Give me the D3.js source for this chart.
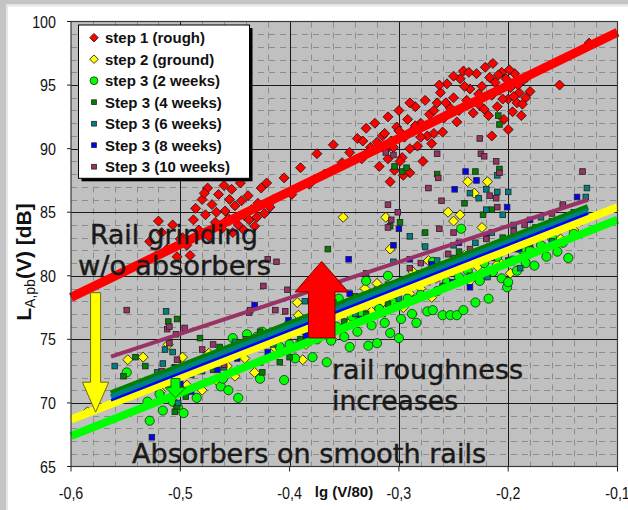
<!DOCTYPE html>
<html>
<head>
<meta charset="utf-8">
<script src="https://cdn.jsdelivr.net/npm/d3@7"></script>
<style>
  body { margin: 0; background: #fff; }
  svg { display: block; }
</style>
</head>
<body>
<svg id="chart" width="628" height="510"></svg>
<script>
// ---- axis ticks ----
const xTicks = [-0.6, -0.5, -0.4, -0.3, -0.2, -0.1];
const xTickLabels = ["-0,6", "-0,5", "-0,4", "-0,3", "-0,2", "-0,1"];
const yTicks = [65, 70, 75, 80, 85, 90, 95, 100];

// ---- series ----
const seriesNames = ["step 1 (rough)", "step 2 (ground)", "step 3 (2 weeks)", "Step 3 (4 weeks)",
  "Step 3 (6 weeks)", "Step 3 (8 weeks)", "Step 3 (10 weeks)"];
const seriesColors = ["#ff0000", "#ffff00", "#00ff00", "#008000", "#008080", "#0000ff", "#993366"];
const seriesShapes = ["diamond", "diamond", "circle", "square", "square", "square", "square"];

// [lg(V/80), L_A,pb in dB]
const step1 = [
  [-0.528,82.7],[-0.522,81.6],[-0.517,83.4],[-0.512,82.1],[-0.507,84.0],[-0.503,81.5],[-0.498,83.0],[-0.494,82.4],
  [-0.491,81.6],[-0.488,84.4],[-0.520,84.3],[-0.500,82.9],
  [-0.486,85.3],[-0.483,83.6],[-0.480,86.0],[-0.477,84.8],[-0.474,83.1],[-0.471,85.6],[-0.468,84.2],[-0.465,86.4],
  [-0.462,83.7],[-0.459,85.1],[-0.456,84.5],[-0.453,86.8],[-0.450,85.5],[-0.447,84.0],[-0.444,85.9],[-0.441,84.7],
  [-0.438,86.3],[-0.435,85.2],[-0.432,83.9],[-0.429,85.7],[-0.426,86.9],[-0.423,84.9],[-0.460,87.1],[-0.445,87.3],
  [-0.475,86.9],[-0.478,86.5],[-0.455,86.0],[-0.442,83.6],[-0.437,84.4],[-0.467,85.0],[-0.452,83.4],[-0.430,84.6],
  [-0.418,85.4],[-0.421,87.3],
  [-0.415,86.0],[-0.405,87.7],[-0.398,86.4],[-0.390,88.5],[-0.382,87.2],[-0.375,89.6],[-0.368,88.0],[-0.360,90.3],
  [-0.352,88.9],[-0.345,89.7],
  [-0.338,90.8],[-0.334,89.2],[-0.330,91.6],[-0.326,90.1],[-0.322,92.0],[-0.318,88.6],[-0.315,91.0],[-0.312,89.9],
  [-0.310,92.5],[-0.307,90.6],[-0.304,88.3],[-0.302,91.7],[-0.300,93.0],[-0.297,89.3],[-0.295,90.9],[-0.292,92.3],
  [-0.290,88.1],[-0.288,91.4],[-0.285,93.3],[-0.283,90.2],[-0.280,92.0],[-0.278,89.0],[-0.276,93.8],[-0.274,91.0],
  [-0.272,92.7],[-0.270,90.4],[-0.268,91.2],[-0.260,91.3],[-0.296,87.9],[-0.308,87.4],
  [-0.280,90.9],[-0.285,91.8],[-0.290,90.0],[-0.299,89.0],[-0.305,90.1],[-0.313,91.2],[-0.320,90.5],[-0.328,89.7],
  [-0.333,90.6],[-0.290,93.6],[-0.300,91.4],[-0.310,89.2],
  [-0.265,93.6],[-0.262,94.4],[-0.259,92.4],[-0.256,95.1],[-0.253,93.2],[-0.250,94.0],[-0.247,92.1],[-0.244,95.5],
  [-0.241,96.1],[-0.238,93.8],[-0.235,94.7],[-0.232,92.8],[-0.229,95.9],[-0.226,93.4],[-0.224,94.9],[-0.221,96.4],
  [-0.218,92.6],[-0.215,94.2],[-0.214,96.7],[-0.212,95.2],[-0.210,93.3],[-0.208,94.6],[-0.206,96.0],[-0.204,92.3],
  [-0.202,95.5],[-0.200,93.9],[-0.198,94.8],[-0.196,92.9],[-0.194,95.9],[-0.192,93.6],[-0.190,94.4],[-0.188,92.6],
  [-0.186,95.4],[-0.184,94.0],[-0.200,91.5],[-0.215,91.0],
  [-0.250,95.7],[-0.245,93.0],[-0.236,96.0],[-0.227,94.3],[-0.222,93.1],[-0.217,95.6],[-0.209,95.8],[-0.205,93.9],
  [-0.199,96.2],[-0.195,94.1],[-0.191,95.0],[-0.187,93.5],[-0.183,95.6],[-0.180,94.5],[-0.240,94.9],[-0.257,93.6],
  [-0.263,95.0],[-0.268,93.0],
  [-0.153,95.0],[-0.126,98.3]
];
const step2 = [
  [-0.585,69.3],[-0.548,73.4],[-0.534,73.6],[-0.527,71.8],[-0.518,70.9],[-0.511,74.6],[-0.505,72.3],[-0.498,73.6],
  [-0.494,71.4],[-0.484,72.6],[-0.474,73.9],[-0.466,71.7],[-0.457,72.9],[-0.449,74.6],[-0.441,73.5],[-0.432,72.4],
  [-0.424,75.0],[-0.413,74.3],[-0.404,76.0],[-0.393,77.9],[-0.392,76.9],[-0.388,73.4],[-0.379,75.6],[-0.371,76.8],
  [-0.361,75.0],[-0.354,77.4],[-0.351,84.6],[-0.345,76.3],[-0.338,78.1],[-0.331,79.0],[-0.325,77.2],[-0.320,79.4],
  [-0.312,84.6],[-0.308,82.1],[-0.303,78.6],[-0.296,77.5],[-0.287,80.3],[-0.280,79.0],[-0.273,81.2],[-0.266,79.8],
  [-0.260,79.1],[-0.255,85.0],[-0.250,84.3],[-0.244,84.8],[-0.240,81.6],[-0.237,87.4],[-0.231,86.5],[-0.228,80.7],
  [-0.224,83.8],[-0.219,87.4],[-0.214,82.3],[-0.207,81.0],[-0.198,80.2],[-0.190,82.8],[-0.181,81.7],[-0.170,83.4],
  [-0.152,82.9],[-0.140,83.6],[-0.130,84.9],
  [-0.480,71.0],[-0.450,72.1],[-0.420,73.6],[-0.385,74.6],[-0.365,76.5],[-0.340,76.9],[-0.315,77.9],[-0.290,78.6],
  [-0.270,78.3],[-0.250,80.6],[-0.235,79.6],[-0.210,80.9],[-0.185,81.2]
];
const step3w2 = [
  [-0.549,72.4],[-0.530,70.1],[-0.528,68.6],[-0.519,70.7],[-0.516,69.4],[-0.507,70.1],[-0.502,69.6],[-0.510,71.6],
  [-0.497,69.2],[-0.485,70.4],[-0.463,71.3],[-0.461,71.9],[-0.456,71.0],[-0.447,70.4],[-0.452,75.1],[-0.439,75.4],
  [-0.430,75.2],[-0.425,75.6],[-0.427,71.9],[-0.409,74.4],[-0.405,71.8],[-0.400,74.6],
  [-0.379,73.6],[-0.366,73.2],[-0.345,74.4],[-0.328,74.5],[-0.320,74.7],[-0.308,75.5],[-0.300,75.1],
  [-0.395,73.5],[-0.390,74.8],[-0.385,75.6],[-0.375,75.0],[-0.370,76.2],[-0.362,74.9],[-0.357,76.0],[-0.350,75.2],
  [-0.343,76.8],[-0.338,75.6],[-0.333,77.0],[-0.325,76.1],[-0.318,77.4],[-0.313,76.3],[-0.305,77.9],[-0.298,76.6],
  [-0.292,78.2],[-0.288,77.0],[-0.284,76.3],[-0.280,78.5],[-0.274,77.2],[-0.269,77.3],[-0.269,81.1],[-0.265,78.8],
  [-0.260,76.9],[-0.256,79.5],[-0.253,76.9],[-0.247,76.9],[-0.245,79.9],[-0.241,77.3],[-0.237,80.4],[-0.230,77.9],
  [-0.226,79.6],[-0.222,81.0],[-0.218,78.2],[-0.214,80.3],[-0.210,81.5],[-0.206,79.8],[-0.201,79.1],[-0.200,79.5],
  [-0.196,81.2],[-0.192,80.4],[-0.188,82.1],[-0.184,81.0],[-0.180,82.0],[-0.176,80.8],[-0.170,82.4],[-0.165,81.5],
  [-0.160,83.0],[-0.155,81.9],[-0.150,82.6],[-0.145,81.4],[-0.140,83.3],[-0.243,83.7],[-0.330,79.6],[-0.355,78.2],
  [-0.310,80.0]
];
const step3w4 = [
  [-0.552,72.1],[-0.541,73.6],[-0.532,72.9],[-0.511,76.4],[-0.503,76.6],[-0.503,69.7],[-0.505,69.3],[-0.495,70.5],
  [-0.482,75.1],[-0.464,74.4],[-0.470,72.6],[-0.455,73.8],[-0.427,75.6],[-0.425,72.4],[-0.409,73.2],[-0.400,73.6],
  [-0.390,75.0],[-0.380,76.8],[-0.365,82.1],[-0.360,77.3],[-0.350,76.4],[-0.340,78.4],[-0.330,77.0],[-0.320,78.9],
  [-0.310,77.8],[-0.308,83.9],[-0.304,88.6],[-0.299,84.2],[-0.297,88.2],[-0.293,88.5],[-0.290,79.6],[-0.285,78.2],
  [-0.276,83.4],[-0.270,80.5],[-0.265,88.0],[-0.260,79.2],[-0.250,81.4],[-0.240,85.7],[-0.235,80.0],[-0.230,88.2],
  [-0.223,84.8],[-0.215,85.2],[-0.210,82.0],[-0.209,92.6],[-0.208,91.9],[-0.208,88.4],[-0.200,81.2],[-0.190,83.2],
  [-0.180,82.5],[-0.160,84.3],[-0.140,85.0],
  [-0.370,75.8],[-0.345,77.2],[-0.335,78.2],[-0.315,77.0],[-0.295,79.0],[-0.280,80.2],[-0.265,79.8],[-0.255,80.5],
  [-0.245,81.9],[-0.225,81.6],[-0.205,83.0],[-0.195,82.1],[-0.175,83.8],[-0.150,84.5],[-0.440,74.9],[-0.490,73.0]
];
const step3w6 = [
  [-0.560,72.9],[-0.521,72.4],[-0.516,73.1],[-0.514,74.2],[-0.513,77.2],[-0.507,74.0],[-0.502,70.0],[-0.500,70.8],
  [-0.490,72.2],[-0.475,73.4],[-0.460,72.8],[-0.440,74.2],[-0.427,73.2],[-0.415,74.6],[-0.400,75.5],[-0.386,78.0],
  [-0.370,76.5],[-0.355,77.6],[-0.340,77.0],[-0.325,78.6],[-0.305,81.1],[-0.300,78.2],[-0.290,83.1],[-0.276,82.3],
  [-0.274,79.5],[-0.258,80.6],[-0.250,82.4],[-0.235,86.5],[-0.227,86.1],[-0.220,86.8],[-0.220,85.2],[-0.219,79.9],
  [-0.210,87.9],[-0.210,86.6],[-0.205,84.8],[-0.200,86.6],[-0.189,80.6],[-0.175,83.3],[-0.160,82.7],[-0.145,84.6],
  [-0.129,86.2],[-0.128,86.9],
  [-0.530,71.8],[-0.480,72.5],[-0.450,74.8],[-0.390,76.3],[-0.360,77.9],[-0.330,78.3],[-0.310,79.3],[-0.285,80.0],
  [-0.265,81.2],[-0.245,80.8],[-0.230,82.6],[-0.215,83.4],[-0.195,84.0],[-0.170,84.6],[-0.150,85.5]
];
const step3w8 = [
  [-0.526,67.3],[-0.505,72.8],[-0.490,70.9],[-0.466,72.6],[-0.448,73.5],[-0.432,77.7],[-0.420,74.0],[-0.401,76.5],
  [-0.385,75.3],[-0.370,77.1],[-0.346,81.3],[-0.335,76.6],[-0.320,78.0],[-0.305,82.4],[-0.301,77.6],[-0.300,83.7],
  [-0.285,79.2],[-0.270,80.9],[-0.251,79.5],[-0.249,86.8],[-0.239,88.2],[-0.235,79.1],[-0.229,87.5],[-0.215,81.4],
  [-0.201,85.4],[-0.190,82.1],[-0.170,83.6],[-0.155,84.2],[-0.137,86.2],
  [-0.500,71.5],[-0.460,73.6],[-0.410,75.1],[-0.360,76.8],[-0.345,78.6],[-0.310,78.9],[-0.290,81.3],[-0.260,80.2],
  [-0.245,82.6],[-0.220,83.0],[-0.205,81.9],[-0.180,84.4]
];
const step3w10 = [
  [-0.549,77.3],[-0.517,72.5],[-0.512,75.8],[-0.510,76.0],[-0.510,74.7],[-0.504,75.4],[-0.503,73.4],[-0.496,75.9],
  [-0.480,74.2],[-0.460,73.0],[-0.437,77.1],[-0.436,77.3],[-0.424,79.2],[-0.420,81.3],[-0.413,77.3],[-0.412,81.1],
  [-0.404,77.2],[-0.402,78.9],[-0.390,76.2],[-0.375,77.9],[-0.360,79.4],[-0.345,78.0],[-0.330,80.2],[-0.315,79.0],
  [-0.312,89.7],[-0.310,85.6],[-0.310,83.8],[-0.307,84.4],[-0.305,89.5],[-0.301,85.0],[-0.290,80.6],[-0.273,86.9],
  [-0.265,89.6],[-0.264,87.7],[-0.263,83.7],[-0.261,85.9],[-0.250,83.4],[-0.245,81.2],[-0.226,90.8],[-0.225,89.6],
  [-0.222,89.4],[-0.217,86.3],[-0.211,89.0],[-0.211,86.1],[-0.210,85.4],[-0.208,88.1],[-0.200,82.8],[-0.185,84.0],
  [-0.160,84.9],[-0.132,88.2],
  [-0.470,74.6],[-0.440,75.0],[-0.380,76.9],[-0.350,77.6],[-0.320,78.4],[-0.295,79.7],[-0.280,81.0],[-0.270,80.1],
  [-0.255,81.7],[-0.235,82.1],[-0.220,82.9],[-0.195,83.5],[-0.175,82.9],[-0.150,85.6]
];
const seriesData = [step1, step2, step3w2, step3w4, step3w6, step3w8, step3w10];

// linear trend lines: [x0, y0, x1, y1]
const trendLines = [
  [-0.6, 78.3, -0.1, 99.15],
  [-0.6, 68.7, -0.1, 85.4],
  [-0.6, 67.4, -0.1, 84.4],
  [-0.5634, 70.75, -0.127, 85.4],
  [-0.5634, 70.45, -0.127, 85.1],
  [-0.5634, 70.2, -0.127, 84.9],
  [-0.5634, 73.64, -0.127, 85.98]
];
const trendWidths = [9, 8, 8, 6, 6, 2.5, 4];

// block arrows: [centre x, shaft half-width, head half-width, tail y, head-base y, tip y]
const arrows = [
  { fill: "#ffff00", edge: "#6b6b00", a: [-0.5775, 0.0046, 0.012, 78.67, 71.63, 69.27] },
  { fill: "#00ff00", edge: "#1a6b1a", a: [-0.5044, 0.0041, 0.0095, 71.92, 71.2, 70.42] },
  { fill: "#ff0000", edge: "#7a0000", a: [-0.3706, 0.0121, 0.0244, 75.11, 78.73, 81.13] }
];

// ---- layout ----
const svg = d3.select("#chart");
const L = 71, R = 617.5, T = 21.5, B = 466.5;
const x = d3.scaleLinear().domain([-0.6, -0.1]).range([L, R]);
const y = d3.scaleLinear().domain([65, 100]).range([B, T]);

// window frame
svg.append("rect").attr("x", 0).attr("y", 0).attr("width", 628).attr("height", 510).attr("fill", "#fff");
svg.append("rect").attr("x", 0).attr("y", 0).attr("width", 628).attr("height", 4.5).attr("fill", "#c4c4c4");
svg.append("rect").attr("x", 0).attr("y", 4.5).attr("width", 628).attr("height", 2).attr("fill", "#e6e6e6");
svg.append("rect").attr("x", 0).attr("y", 0).attr("width", 6).attr("height", 510).attr("fill", "#c4c4c4");
svg.append("rect").attr("x", 6).attr("y", 4.5).attr("width", 2).attr("height", 505.5).attr("fill", "#e6e6e6");

// plot background
svg.append("rect").attr("x", L).attr("y", T).attr("width", R - L).attr("height", B - T).attr("fill", "#c0c0c0");

// minor grid
const gMinor = svg.append("g").attr("stroke", "#8c8c8c").attr("stroke-width", 1).attr("stroke-dasharray", "6,5");
const xMinor = d3.range(-0.58, -0.1, 0.02).filter(v => Math.abs(v * 10 - Math.round(v * 10)) > 1e-6);
const yMinor = d3.range(66, 100, 1).filter(v => v % 5 !== 0);
gMinor.selectAll("line.xm").data(xMinor).join("line")
  .attr("x1", d => Math.round(x(d)) + 0.5).attr("x2", d => Math.round(x(d)) + 0.5)
  .attr("y1", T).attr("y2", B);
gMinor.selectAll("line.ym").data(yMinor).join("line")
  .attr("y1", d => Math.round(y(d)) + 0.5).attr("y2", d => Math.round(y(d)) + 0.5)
  .attr("x1", L).attr("x2", R);

// major grid
const gMajor = svg.append("g").attr("stroke", "#1a1a1a").attr("stroke-width", 1);
gMajor.selectAll("line.xM").data(xTicks.slice(1, -1)).join("line")
  .attr("x1", d => Math.round(x(d)) + 0.5).attr("x2", d => Math.round(x(d)) + 0.5)
  .attr("y1", T).attr("y2", B);
gMajor.selectAll("line.yM").data(yTicks.slice(1, -1)).join("line")
  .attr("y1", d => Math.round(y(d)) + 0.5).attr("y2", d => Math.round(y(d)) + 0.5)
  .attr("x1", L).attr("x2", R);

// markers
const diamond = r => `M0,${-r}L${r},0L0,${r}L${-r},0Z`;
function drawMarker(sel, shape, color, scale) {
  if (shape === "diamond") {
    sel.append("path").attr("d", diamond(5 * scale)).attr("fill", color).attr("stroke", "#111").attr("stroke-width", 0.8);
  } else if (shape === "circle") {
    sel.append("circle").attr("r", 4.6 * scale).attr("fill", color).attr("stroke", "#111").attr("stroke-width", 0.7);
  } else {
    const s = 5.6 * scale;
    sel.append("rect").attr("x", -s / 2).attr("y", -s / 2).attr("width", s).attr("height", s)
      .attr("fill", color).attr("stroke", "#222").attr("stroke-width", 0.8);
  }
}

const plot = svg.append("g");
seriesData.forEach((data, i) => {
  plot.append("g").selectAll("g").data(data).join("g")
    .attr("transform", d => `translate(${x(d[0])},${y(d[1])})`)
    .each(function () { drawMarker(d3.select(this), seriesShapes[i], seriesColors[i], 1); });
});

// trend lines
trendLines.forEach((t, i) => {
  plot.append("line")
    .attr("x1", x(t[0])).attr("y1", y(t[1])).attr("x2", x(t[2])).attr("y2", y(t[3]))
    .attr("stroke", seriesColors[i]).attr("stroke-width", trendWidths[i]);
});

// block arrows
arrows.forEach(ar => {
  const [cx, sw, hw, y0, yb, yt] = ar.a;
  const pts = [[cx - sw, y0], [cx + sw, y0], [cx + sw, yb], [cx + hw, yb], [cx, yt], [cx - hw, yb], [cx - sw, yb]];
  svg.append("path")
    .attr("d", d3.line().x(p => x(p[0])).y(p => y(p[1]))(pts) + "Z")
    .attr("fill", ar.fill).attr("stroke", ar.edge).attr("stroke-width", 1);
});

// plot border
svg.append("rect").attr("x", L).attr("y", T).attr("width", R - L).attr("height", B - T)
  .attr("fill", "none").attr("stroke", "#3a3a3a").attr("stroke-width", 1.2);

// condensed tick labels: squeeze the regular face horizontally
function condense(sel, k) {
  sel.each(function () {
    const w = this.getComputedTextLength();
    d3.select(this).attr("textLength", w * k).attr("lengthAdjust", "spacingAndGlyphs");
  });
}

// axes ticks
const tickFont = "'Liberation Sans',Arial,sans-serif";
svg.append("g").selectAll("line").data(xTicks).join("line")
  .attr("x1", d => x(d)).attr("x2", d => x(d)).attr("y1", B).attr("y2", B + 5)
  .attr("stroke", "#222").attr("stroke-width", 1);
svg.append("g").selectAll("line").data(yTicks).join("line")
  .attr("x1", L - 4).attr("x2", L).attr("y1", d => y(d)).attr("y2", d => y(d))
  .attr("stroke", "#222").attr("stroke-width", 1);
svg.append("g").selectAll("text").data(xTicks).join("text")
  .attr("x", d => x(d)).attr("y", 499).attr("text-anchor", "middle")
  .attr("font-family", tickFont).attr("font-size", 17).attr("fill", "#111")
  .text((d, i) => xTickLabels[i])
  .call(condense, 0.84);
svg.append("g").selectAll("text").data(yTicks).join("text")
  .attr("x", 56).attr("y", d => y(d) + 6).attr("text-anchor", "end")
  .attr("font-family", tickFont).attr("font-size", 17).attr("fill", "#111")
  .text(d => d)
  .call(condense, 0.84);

// axis titles
svg.append("text").attr("x", 344).attr("y", 497).attr("text-anchor", "middle")
  .attr("font-family", "'Liberation Sans',Arial,sans-serif").attr("font-weight", "bold")
  .attr("font-size", 15).attr("fill", "#111").text("lg (V/80)");

const yTitle = svg.append("text")
  .attr("transform", "translate(31,262) rotate(-90)").attr("text-anchor", "middle")
  .attr("font-family", "'Liberation Sans',Arial,sans-serif").attr("fill", "#111");
yTitle.append("tspan").attr("font-weight", "bold").attr("font-size", 21).text("L");
yTitle.append("tspan").attr("font-size", 14).attr("dy", 4).text("A,pb");
yTitle.append("tspan").attr("font-weight", "bold").attr("font-size", 21).attr("dy", -4).text("(V) [dB]");

// annotations
const noteFont = "'DejaVu Sans',Verdana,sans-serif";
const notes = [
  ["Rail grinding", 90, 244, 168],
  ["w/o absorbers", 78, 275, 193],
  ["rail roughness", 332, 379, 191],
  ["increases", 332, 410, 126],
  ["Absorbers on smooth rails", 132, 463, 354]
];
notes.forEach(n => {
  svg.append("text").attr("x", n[1]).attr("y", n[2])
    .attr("font-family", noteFont).attr("font-size", 26).attr("fill", "#1a1a1a")
    .attr("stroke", "#1a1a1a").attr("stroke-width", 0.45)
    .attr("textLength", n[3]).attr("lengthAdjust", "spacingAndGlyphs").text(n[0]);
});

// legend
const lg = svg.append("g");
lg.append("rect").attr("x", 81.5).attr("y", 28).attr("width", 171).attr("height", 153.3).attr("fill", "#000");
lg.append("rect").attr("x", 78.5).attr("y", 25).attr("width", 171).attr("height", 153.3)
  .attr("fill", "#fff").attr("stroke", "#000").attr("stroke-width", 1);
seriesNames.forEach((name, i) => {
  const cy = 37.7 + i * 21.5;
  const g = lg.append("g").attr("transform", `translate(94,${cy})`);
  drawMarker(g, seriesShapes[i], seriesColors[i], 0.85);
  lg.append("text").attr("x", 105).attr("y", cy + 5.3)
    .attr("font-family", "'Liberation Sans',Arial,sans-serif").attr("font-weight", "bold")
    .attr("font-size", 15).attr("fill", "#111").text(name);
});
</script>
</body>
</html>
